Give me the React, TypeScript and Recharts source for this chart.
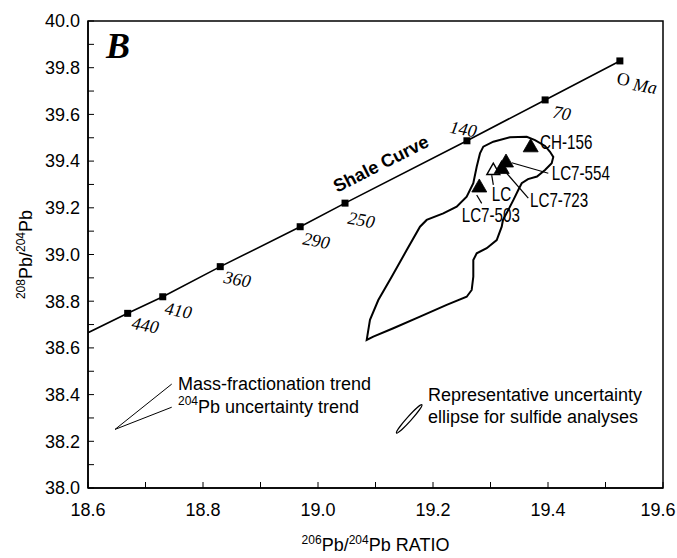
import React from 'react';
import { ComposedChart, XAxis, YAxis, Line, Scatter, ReferenceArea, Label } from 'recharts';

// ---------- data ----------
const xTicks = [18.6, 18.7, 18.8, 18.9, 19.0, 19.1, 19.2, 19.3, 19.4, 19.5, 19.6];
const yTicks = [38.0, 38.1, 38.2, 38.3, 38.4, 38.5, 38.6, 38.7, 38.8, 38.9, 39.0, 39.1, 39.2, 39.3, 39.4, 39.5, 39.6, 39.7, 39.8, 39.9, 40.0];

// Shale curve (first point = where the curve meets the left axis, no age marker)
const shaleX = [18.6, 18.669, 18.73, 18.83, 18.969, 19.047, 19.259, 19.395, 19.525];
const shaleY = [38.665, 38.748, 38.819, 38.948, 39.119, 39.22, 39.487, 39.662, 39.829];
const shaleAge = ['', '440', '410', '360', '290', '250', '140', '70', '0'];
const ageLabelX = [18.6765, 18.7339, 18.8365, 18.9739, 19.0522, 19.2296, 19.4087, 19.52];
const ageLabelY = [38.707, 38.770, 38.904, 39.069, 39.158, 39.547, 39.612, 39.755];

// Field outline (closed contour)
const contourX = [19.0847, 19.0904, 19.1049, 19.1282, 19.1543, 19.1774, 19.189, 19.2179, 19.2412, 19.2586, 19.2701, 19.276, 19.2817, 19.2875, 19.3049, 19.3339, 19.363, 19.3774, 19.3948, 19.4035, 19.4092, 19.4064, 19.3948, 19.3809, 19.3652, 19.3543, 19.3483, 19.3397, 19.331, 19.3217, 19.3195, 19.3108, 19.2934, 19.276, 19.2701, 19.2701, 19.2673, 19.2586, 19.2238, 19.1774, 19.131, 19.0962];
const contourY = [38.634, 38.720, 38.805, 38.905, 39.019, 39.119, 39.148, 39.176, 39.205, 39.248, 39.305, 39.376, 39.433, 39.462, 39.483, 39.502, 39.504, 39.490, 39.465, 39.440, 39.418, 39.391, 39.362, 39.334, 39.323, 39.305, 39.276, 39.233, 39.191, 39.148, 39.119, 39.062, 39.027, 39.005, 38.976, 38.905, 38.848, 38.819, 38.784, 38.734, 38.684, 38.648];

// Sulfide samples
const sampleNames = ['LC', 'LC7-723', 'LC7-554', 'CH-156', 'LC7-503'];
const sampleX = [19.3049, 19.3195, 19.327, 19.3699, 19.2805];
const sampleY = [39.362, 39.369, 39.397, 39.462, 39.290];
const sampleFilled = [false, true, true, true, true];
const sampleLabelX = [19.3021, 19.3687, 19.4064, 19.3861, 19.2499];
const sampleLabelY = [39.259, 39.233, 39.348, 39.481, 39.169];

// Leader lines from labels to samples
const leaderFromX = [19.3021, 19.3282, 19.3369, 19.276];
const leaderFromY = [39.340, 39.348, 39.393, 39.255];
const leaderToX = [19.3049, 19.3657, 19.4005, 19.2847];
const leaderToY = [39.298, 39.241, 39.348, 39.219];

// Trend indicator lines
const trendOrigin = { x: 18.647, y: 38.251 };
const massTrendEnd = { x: 18.7456, y: 38.445 };
const pbTrendEnd = { x: 18.7456, y: 38.346 };

// Uncertainty ellipse
const ellipseCenter = { x: 19.1586, y: 38.296 };

// Notes
const noteX = [18.7565, 18.7565, 19.1913, 19.1913];
const noteY = [38.445, 38.347, 38.398, 38.304];
const noteSup = ['', '204', '', ''];
const noteText = ['Mass-fractionation trend', 'Pb uncertainty trend', 'Representative uncertainty', 'ellipse for sulfide analyses'];

const shaleTitle = { x: 19.1096, y: 39.388, text: 'Shale Curve' };
const panelLetter = { x: 18.6313, y: 39.842, text: 'B' };

// ---------- styles ----------
const SANS = "'Liberation Sans', Arial, Helvetica, sans-serif";
const SERIF = "'Liberation Serif', 'Times New Roman', serif";

const fmt = (v: number) => (Math.round(v * 10) % 2 === 0 ? v.toFixed(1) : '');

const XTick = (props: any) => {
  const v = props.payload?.value;
  const label = fmt(v);
  if (!label) return null;
  const shift = v >= 19.59 ? -5 : 0;
  return (
    <text x={props.x + shift} y={props.y} dy="0.71em" textAnchor="middle" fontFamily={SANS} fontSize={18} fill="#000">
      {label}
    </text>
  );
};

const XTitle = (props: any) => {
  const vb = props.viewBox || {};
  const cx = vb.x + vb.width / 2;
  const y = vb.y + 63;
  return (
    <text x={cx} y={y} textAnchor="middle" fontFamily={SANS} fontSize={18} fill="#000">
      <tspan fontSize={12} dy={-7}>206</tspan>
      <tspan dy={7}>Pb/</tspan>
      <tspan fontSize={12} dy={-7}>204</tspan>
      <tspan dy={7}>Pb RATIO</tspan>
    </text>
  );
};

const YTitle = (props: any) => {
  const vb = props.viewBox || {};
  const cy = vb.y + vb.height / 2;
  const x = vb.x + 4;
  return (
    <text x={x} y={cy} textAnchor="middle" transform={`rotate(-90 ${x} ${cy})`} fontFamily={SANS} fontSize={18} fill="#000">
      <tspan fontSize={12} dy={-7}>208</tspan>
      <tspan dy={7}>Pb/</tspan>
      <tspan fontSize={12} dy={-7}>204</tspan>
      <tspan dy={7}>Pb</tspan>
    </text>
  );
};

const pts = (xs: number[], ys: number[]) => xs.map((x, i) => ({ x, y: ys[i] }));

export default function App() {
  const shaleData = pts(shaleX, shaleY);
  const markerData = shaleX.slice(1).map((x, i) => ({ x, y: shaleY[i + 1] }));
  const ageData = ageLabelX.map((x, i) => ({ x, y: ageLabelY[i], label: shaleAge[i + 1] }));
  const contourData = pts(contourX, contourY);
  const sampleData = sampleX.map((x, i) => ({ x, y: sampleY[i], filled: sampleFilled[i], name: sampleNames[i] }));
  const sampleLabelData = sampleLabelX.map((x, i) => ({ x, y: sampleLabelY[i], name: sampleNames[i] }));
  const leaders = leaderFromX.map((x, i) => [
    { x, y: leaderFromY[i] },
    { x: leaderToX[i], y: leaderToY[i] },
  ]);
  const noteData = noteX.map((x, i) => ({ x, y: noteY[i], sup: noteSup[i], text: noteText[i] }));

  const axisLine = { stroke: '#000', strokeWidth: 1.5 };
  const tickStyle = { fill: '#000', fontSize: 18, fontFamily: SANS };

  return (
    <div style={{ position: 'absolute', left: 0, top: 0, width: 677, height: 558, background: '#fff' }}>
      <ComposedChart width={677} height={558} margin={{ top: 21, right: 14, left: 28, bottom: 20 }}>
        <XAxis
          type="number"
          dataKey="x"
          domain={[18.6, 19.6]}
          ticks={xTicks}
          interval={0}
          tickFormatter={fmt}
          allowDataOverflow
          tickSize={-6}
          tickMargin={21}
          height={50}
          axisLine={axisLine}
          tickLine={{ stroke: '#000', strokeWidth: 1 }}
          tick={XTick}
        >
          <Label content={XTitle} />
        </XAxis>
        <YAxis
          type="number"
          dataKey="y"
          domain={[38, 40]}
          ticks={yTicks}
          interval={0}
          tickFormatter={fmt}
          allowDataOverflow
          tickSize={-6}
          tickMargin={14}
          width={60}
          axisLine={axisLine}
          tickLine={{ stroke: '#000', strokeWidth: 1 }}
          tick={tickStyle}
        >
          <Label content={YTitle} />
        </YAxis>

        <ReferenceArea x1={18.6} x2={19.6} y1={38} y2={40} fill="none" stroke="#000" strokeWidth={1.5} ifOverflow="visible" />

        {/* Shale curve */}
        <Line data={shaleData} dataKey="y" type="linear" stroke="#000" strokeWidth={1.6} dot={false} activeDot={false} isAnimationActive={false} />
        <Scatter
          data={markerData}
          isAnimationActive={false}
          shape={(p: any) => <rect x={p.cx - 3.5} y={p.cy - 3.5} width={7} height={7} fill="#000" />}
        />
        <Scatter
          data={ageData}
          isAnimationActive={false}
          shape={(p: any) => {
            const lab = p.payload.label;
            return (
              <text
                x={p.cx}
                y={p.cy}
                dominantBaseline="central"
                fontFamily={SERIF}
                fontSize={18}
                fontStyle={lab === '0' ? 'normal' : 'italic'}
                fill="#000"
                transform={`rotate(10 ${p.cx} ${p.cy})`}
              >
                {lab === '0' ? (
                  <>
                    <tspan>O</tspan>
                    <tspan fontStyle="italic" dx={4} dy={3}>Ma</tspan>
                  </>
                ) : (
                  lab
                )}
              </text>
            );
          }}
        />
        <Scatter
          data={[shaleTitle]}
          isAnimationActive={false}
          shape={(p: any) => (
            <text
              x={p.cx}
              y={p.cy}
              textAnchor="middle"
              dominantBaseline="central"
              fontFamily={SANS}
              fontWeight="bold"
              fontSize={18}
              fill="#000"
              transform={`rotate(-27 ${p.cx} ${p.cy})`}
            >
              {p.payload.text}
            </text>
          )}
        />

        {/* Field contour */}
        <Line data={contourData} dataKey="y" type="linearClosed" stroke="#000" strokeWidth={2} dot={false} activeDot={false} isAnimationActive={false} />

        {/* Leader lines */}
        {leaders.map((d, i) => (
          <Line key={'ld' + i} data={d} dataKey="y" type="linear" stroke="#000" strokeWidth={1.2} dot={false} activeDot={false} isAnimationActive={false} />
        ))}

        {/* Samples */}
        <Scatter
          data={sampleData}
          isAnimationActive={false}
          shape={(p: any) => {
            const f = p.payload.filled;
            const w = f ? 7.5 : 6.5;
            const h = f ? 13 : 11.5;
            const d = `M${p.cx},${p.cy - h * 0.6} L${p.cx - w},${p.cy + h * 0.4} L${p.cx + w},${p.cy + h * 0.4} Z`;
            return <path d={d} fill={f ? '#000' : '#fff'} stroke="#000" strokeWidth={f ? 0.8 : 1.4} />;
          }}
        />
        <Scatter
          data={sampleLabelData}
          isAnimationActive={false}
          shape={(p: any) => (
            <text
              x={0}
              y={0}
              transform={`translate(${p.cx} ${p.cy}) scale(0.76 1)`}
              dominantBaseline="central"
              fontFamily={SANS}
              fontSize={20}
              fill="#000"
            >
              {p.payload.name}
            </text>
          )}
        />

        {/* Trend indicators */}
        <Line data={[trendOrigin, massTrendEnd]} dataKey="y" type="linear" stroke="#000" strokeWidth={1} dot={false} activeDot={false} isAnimationActive={false} />
        <Line data={[trendOrigin, pbTrendEnd]} dataKey="y" type="linear" stroke="#000" strokeWidth={1} dot={false} activeDot={false} isAnimationActive={false} />

        {/* Uncertainty ellipse */}
        <Scatter
          data={[ellipseCenter]}
          isAnimationActive={false}
          shape={(p: any) => (
            <ellipse cx={p.cx} cy={p.cy} rx={19} ry={2.2} transform={`rotate(-48 ${p.cx} ${p.cy})`} fill="none" stroke="#000" strokeWidth={1.2} />
          )}
        />

        {/* Notes */}
        <Scatter
          data={noteData}
          isAnimationActive={false}
          shape={(p: any) => (
            <text x={p.cx} y={p.cy} dominantBaseline="central" fontFamily={SANS} fontSize={18} fill="#000">
              {p.payload.sup ? (
                <>
                  <tspan fontSize={12} dy={-6}>{p.payload.sup}</tspan>
                  <tspan dy={6}>{p.payload.text}</tspan>
                </>
              ) : (
                p.payload.text
              )}
            </text>
          )}
        />

        {/* Panel letter */}
        <Scatter
          data={[panelLetter]}
          isAnimationActive={false}
          shape={(p: any) => (
            <text x={p.cx} y={p.cy} fontFamily={SERIF} fontWeight="bold" fontStyle="italic" fontSize={36} fill="#000">
              {p.payload.text}
            </text>
          )}
        />
      </ComposedChart>
    </div>
  );
}
